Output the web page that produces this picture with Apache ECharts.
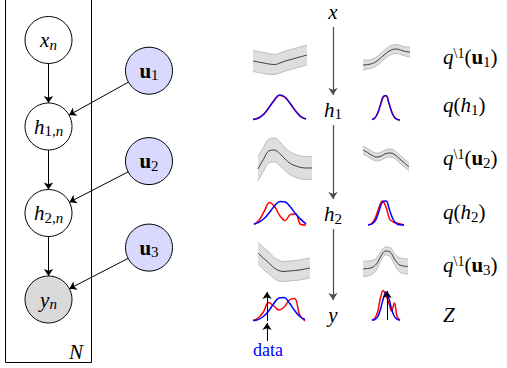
<!DOCTYPE html>
<html>
<head>
<meta charset="utf-8">
<script src="https://cdn.jsdelivr.net/npm/echarts@6/dist/echarts.min.js"></script>
<style>
  html, body { margin: 0; padding: 0; background: #fff; }
  #main { width: 507px; height: 368px; }
</style>
</head>
<body>
<div id="main"></div>
<script>
// sample positions across each small plot (0 = left edge, 1 = right edge)
const xs = [0, 0.1, 0.2, 0.3, 0.4, 0.5, 0.6, 0.7, 0.8, 0.9, 1];

// GP posteriors q\1(u): mean and half width of the grey band
const u1LeftMean  = [19, 18, 17, 16, 15.5, 17, 19, 20.5, 22, 23.5, 25];
const u1LeftBand  = [10.5, 10.5, 10.5, 10.5, 10, 10, 10, 10, 10, 10, 10];
const u1RightMean = [15, 15.5, 16.5, 19, 23, 27, 30, 31, 30, 28.5, 28];
const u1RightBand = [5, 4.5, 4.5, 4.5, 4.5, 4.5, 4.5, 4.5, 4.5, 4.5, 5];
const u2LeftMean  = [16, 25.5, 34, 35, 31.5, 26, 21.5, 19, 17.5, 17, 17];
const u2LeftBand  = [12, 12, 12, 12, 12, 11.5, 11.5, 11.5, 11.5, 11.5, 11.5];
const u2RightMean = [35, 32.5, 29.5, 28, 29, 31.5, 32, 30, 26, 22, 18];
const u2RightBand = [4, 4, 4, 4, 4, 4, 4, 4, 4, 4, 4];
const u3LeftMean  = [37, 32, 27.5, 22.5, 19.5, 18.5, 19, 19.5, 20, 21, 22];
const u3LeftBand  = [11, 11, 11, 10.5, 10.5, 10, 10, 10, 10, 10, 10];
const u3RightMean = [21, 21.5, 22.5, 26, 34, 39, 38, 31, 25.5, 24, 23.5];
const u3RightBand = [7.5, 7.5, 7, 6, 4.5, 4, 4.5, 5.5, 7, 7.5, 7.5];

// densities q(h1), q(h2), Z : blue and red curves
const h1LeftBlue  = [0.5, 1.8, 5.6, 12.2, 19.6, 24.9, 23, 16.7, 9.4, 3.4, 1.1];
const h1LeftRed   = [0.6, 2, 5.8, 12.4, 19.8, 24.8, 22.8, 16.5, 9.2, 3.3, 1];
const h1RightBlue = [0.4, 1.9, 6.5, 14.8, 23, 24.4, 17.5, 8.5, 2.8, 0.65, 0.1];
const h1RightRed  = [0.5, 2, 6.7, 15, 23.2, 24.2, 17.3, 8.3, 2.7, 0.6, 0.1];
const h2LeftBlue  = [0.9, 2.8, 6.7, 12.7, 19.4, 23.6, 23, 18, 11.2, 5.6, 1.2];
const h2LeftRed   = [0.5, 5, 14, 22.5, 18, 9, 4.5, 10.5, 11, 0.5, 0];
const h2RightBlue = [0.1, 0.9, 4.1, 13, 22.9, 23.9, 14.8, 5.5, 1.2, 0.2, 0];
const h2RightRed  = [0.2, 1.5, 7, 17, 24, 18, 6, 3, 2, 1, 0];
const zLeftBlue   = [0.4, 1.4, 4.5, 10, 17.5, 23, 23.5, 18, 10.5, 4.5, 1.5];
const zLeftRed    = [0.5, 3, 9, 18.5, 15, 11, 14, 21, 22.5, 6, 0];
const zRightBlue  = [0, 0.5, 3, 10.5, 21, 28, 22, 11, 3.5, 0.7, 0];
const zRightRed   = [0, 1.5, 8, 22, 29.5, 24, 17, 9, 17, 3, 0];
const zLeftData   = 0.27;   // observed data point
const zRightData  = 0.54;

// graphical model
const modelLabels = ['{it|x}{sub|n}', '{it|h}{subrm|1,}{sub|n}', '{it|h}{subrm|2,}{sub|n}', '{it|y}{sub|n}',
                     '{bf|u}{subrm|1}', '{bf|u}{subrm|2}', '{bf|u}{subrm|3}'];
const modelColumn = [0, 0, 0, 0, 1, 1, 1];
const modelLevel  = [0, 1, 2, 3, 0.355, 1.4, 2.4];
const modelLinks  = [[0, 1], [1, 2], [2, 3], [4, 1], [5, 2], [6, 3]];

// chain in the middle
const chainLabels = ['{it|x}', '{it|h}{subrm|1}', '{it|h}{subrm|2}', '{it|y}'];
const chainLevel  = [0, 0.97, 2.0, 3.0];

const rowLabels = [
  '{it|q}{sup|\\1}{rm|(}{bf|u}{subrm|1}{rm|)}',
  '{it|q}{rm|(}{it|h}{subrm|1}{rm|)}',
  '{it|q}{sup|\\1}{rm|(}{bf|u}{subrm|2}{rm|)}',
  '{it|q}{rm|(}{it|h}{subrm|2}{rm|)}',
  '{it|q}{sup|\\1}{rm|(}{bf|u}{subrm|3}{rm|)}',
  '{it|Z}'
];

const serif = 'Liberation Serif';
const rich = {
  it: { fontFamily: serif, fontStyle: 'italic', fontSize: 21, lineHeight: 22, color: '#000' },
  bf: { fontFamily: serif, fontWeight: 'bold', fontSize: 21, lineHeight: 22, color: '#000' },
  rm: { fontFamily: serif, fontSize: 21, lineHeight: 22, color: '#000' },
  sub: { fontFamily: serif, fontStyle: 'italic', fontSize: 15, lineHeight: 14, padding: [9, 0, 0, 0], color: '#000' },
  subrm: { fontFamily: serif, fontSize: 15, lineHeight: 14, padding: [9, 0, 0, 0], color: '#000' },
  sup: { fontFamily: serif, fontSize: 14, lineHeight: 14, verticalAlign: 'top', color: '#000' }
};

// grid boxes: left, top, width, height
const boxes = [
  [253, 38, 54, 42], [363, 38, 47, 42],
  [253, 90, 53, 30], [372, 90, 28, 30],
  [258, 130, 54, 55], [363, 130, 46, 55],
  [254, 195, 52, 30], [368, 195, 36, 30],
  [258, 232, 52, 58], [363, 232, 45, 58],
  [253, 286, 52, 66], [372, 285, 28, 35],
  [48.5, 40, 100.5, 259.5],
  [323, 12, 20, 303]
];
const yRange = [[0, 42], [0, 42], [0, 30], [0, 30], [0, 55], [0, 55], [0, 30], [0, 30],
                [0, 58], [0, 58], [-31, 35], [0, 35], [0, 3], [0, 3]];

const pair = (arr) => arr.map((v, i) => [xs[i], v]);

// band = grey area under the upper edge, masked in white under the lower edge
function gpSeries(g, mean, band) {
  const base = { type: 'line', xAxisIndex: g, yAxisIndex: g, symbol: 'none', smooth: 0.4,
                 silent: true, clip: false, animation: false };
  return [
    Object.assign({}, base, { data: pair(mean.map((m, i) => m + band[i])),
      lineStyle: { color: '#b0b0b0', width: 0.8 }, areaStyle: { color: '#dedede', opacity: 1 } }),
    Object.assign({}, base, { data: pair(mean.map((m, i) => m - band[i])),
      lineStyle: { color: '#b0b0b0', width: 0.8 }, areaStyle: { color: '#ffffff', opacity: 1 } }),
    Object.assign({}, base, { data: pair(mean), lineStyle: { color: '#3c3c3c', width: 1 } })
  ];
}

function densSeries(g, vals, color, opacity, mark) {
  const s = { type: 'line', xAxisIndex: g, yAxisIndex: g, symbol: 'none', smooth: 0.4,
    silent: true, clip: false, animation: false, data: pair(vals),
    lineStyle: { color: color, width: 1.5, opacity: opacity } };
  if (mark) {
    s.markLine = { silent: true, animation: false, symbol: ['none', 'arrow'], symbolSize: 7,
      label: { show: false }, lineStyle: { color: '#000', width: 1, type: 'solid' }, data: mark };
  }
  return s;
}

const series = [].concat(
  gpSeries(0, u1LeftMean, u1LeftBand), gpSeries(1, u1RightMean, u1RightBand),
  gpSeries(4, u2LeftMean, u2LeftBand), gpSeries(5, u2RightMean, u2RightBand),
  gpSeries(8, u3LeftMean, u3LeftBand), gpSeries(9, u3RightMean, u3RightBand),
  [
    densSeries(2, h1LeftRed, '#ff0000', 1), densSeries(2, h1LeftBlue, '#0000ff', 0.85),
    densSeries(3, h1RightRed, '#ff0000', 1), densSeries(3, h1RightBlue, '#0000ff', 0.85),
    densSeries(6, h2LeftRed, '#ff0000', 1), densSeries(6, h2LeftBlue, '#0000ff', 1),
    densSeries(7, h2RightRed, '#ff0000', 1), densSeries(7, h2RightBlue, '#0000ff', 1),
    densSeries(10, zLeftRed, '#ff0000', 1),
    densSeries(10, zLeftBlue, '#0000ff', 1, [
      [{ coord: [zLeftData, 0] }, { coord: [zLeftData, 29] }],
      [{ coord: [zLeftData, -20] }, { coord: [zLeftData, -2] }]
    ]),
    densSeries(11, zRightRed, '#ff0000', 1),
    densSeries(11, zRightBlue, '#0000ff', 1, [
      [{ coord: [zRightData, 0] }, { coord: [zRightData, 29] }]
    ])
  ],
  [{
    type: 'graph', coordinateSystem: 'cartesian2d', xAxisIndex: 12, yAxisIndex: 12,
    layout: 'none', silent: true, animation: false, z: 3,
    symbol: 'circle', symbolSize: 47,
    itemStyle: { borderColor: '#000', borderWidth: 1 },
    edgeSymbol: ['circle', 'arrow'], edgeSymbolSize: [0, 7],
    lineStyle: { color: '#000', width: 1, opacity: 1, curveness: 0 },
    label: { show: true, position: 'inside', rich: rich },
    data: modelLabels.map((t, i) => ({
      name: 'm' + i, value: [modelColumn[i], modelLevel[i]],
      itemStyle: { color: i === 3 ? '#d9d9d9' : (i > 3 ? '#d9d9ff' : '#ffffff') },
      label: { formatter: t }
    })),
    links: modelLinks.map(l => ({ source: 'm' + l[0], target: 'm' + l[1] }))
  }, {
    type: 'graph', coordinateSystem: 'cartesian2d', xAxisIndex: 13, yAxisIndex: 13,
    layout: 'none', silent: true, animation: false, z: 3,
    symbol: 'circle', symbolSize: 30,
    itemStyle: { color: 'rgba(0,0,0,0)', borderWidth: 0 },
    edgeSymbol: ['circle', 'arrow'], edgeSymbolSize: [0, 7],
    lineStyle: { color: '#4d4d4d', width: 1.2, opacity: 1, curveness: 0 },
    label: { show: true, position: 'inside', rich: rich },
    data: chainLabels.map((t, i) => ({ name: 'c' + i, value: [0.5, chainLevel[i]], label: { formatter: t } })),
    links: [0, 1, 2].map(i => ({ source: 'c' + i, target: 'c' + (i + 1) }))
  }]
);

const rowY = [57, 105, 158, 212, 265, 315];

const option = {
  animation: false,
  grid: boxes.map(b => ({ left: b[0], top: b[1], width: b[2], height: b[3], containLabel: false })),
  xAxis: boxes.map((b, i) => ({ type: 'value', gridIndex: i, min: 0, max: 1, show: false })),
  yAxis: boxes.map((b, i) => ({ type: 'value', gridIndex: i, min: yRange[i][0], max: yRange[i][1],
                                 inverse: i >= 12, show: false })),
  series: series,
  graphic: [
    { type: 'rect', silent: true, shape: { x: 5.5, y: -1, width: 86, height: 363.5 },
      style: { fill: 'none', stroke: '#000', lineWidth: 1 } },
    { type: 'text', silent: true, x: 76, y: 352,
      style: { text: '{it|N}', rich: rich, align: 'center', verticalAlign: 'middle' } },
    { type: 'text', silent: true, x: 268, y: 350,
      style: { text: 'data', fontFamily: serif, fontSize: 18, fill: '#0000ff', align: 'center', verticalAlign: 'middle' } }
  ].concat(rowLabels.map((t, i) => ({
    type: 'text', silent: true, x: 443, y: rowY[i],
    style: { text: t, rich: rich, verticalAlign: 'middle', align: 'left' }
  })))
};

const chart = echarts.init(document.getElementById('main'), null, { renderer: 'svg' });
chart.setOption(option);
window.addEventListener('resize', () => chart.resize());
</script>
</body>
</html>
